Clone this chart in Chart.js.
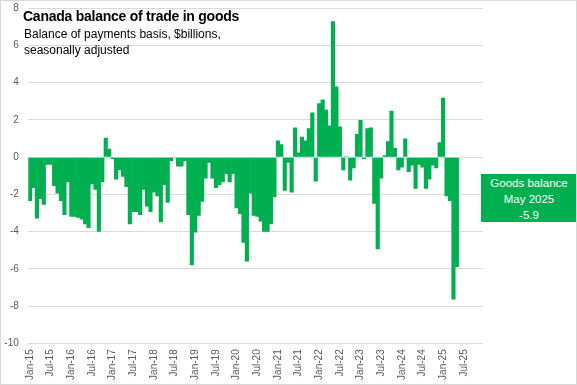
<!DOCTYPE html>
<html><head><meta charset="utf-8">
<script src="https://cdn.jsdelivr.net/npm/chart.js@4.4.1/dist/chart.umd.min.js"></script>
<style>
html,body{margin:0;padding:0;background:#fff;}
#wrap{position:relative;width:577px;height:385px;overflow:hidden;background:#fff;}
#c{position:absolute;left:0;top:0;}
#frame{position:absolute;left:0;top:0;width:577px;height:385px;box-sizing:border-box;border:1px solid #d9d9d9;pointer-events:none;}
#title{position:absolute;left:23px;top:8px;font:bold 14px/16px "Liberation Sans",Arial,sans-serif;color:#000;white-space:nowrap;letter-spacing:-0.25px;}
#sub{position:absolute;left:24px;top:25.5px;font:12px/16px "Liberation Sans",Arial,sans-serif;color:#000;white-space:nowrap;}
#box{position:absolute;left:481px;top:174px;width:96px;height:48px;box-sizing:border-box;padding-top:1px;background:#00b050;color:#fff;font:11.5px/16px "Liberation Sans",Arial,sans-serif;text-align:center;}
</style>
</head><body>
<div id="wrap">
<canvas id="c" width="577" height="385"></canvas>
<div id="title">Canada balance of trade in goods</div>
<div id="sub">Balance of payments basis, $billions,<br>seasonally adjusted</div>
<div id="box">Goods balance<br>May 2025<br>-5.9</div>
<div id="frame"></div>
</div>
<script>
const monthNames = ['Jan','Feb','Mar','Apr','May','Jun','Jul','Aug','Sep','Oct','Nov','Dec'];
const yearLabels = ['15','16','17','18','19','20','21','22','23','24','25'];
const categories = yearLabels.flatMap(y => monthNames.map(m => m + '-' + y));
const yTicks = [-10,-8,-6,-4,-2,0,2,4,6,8];

const bal2015 = [-2.35,-1.65,-3.3,-2.25,-2.55,-0.4,-0.4,-1.55,-1.95,-2.35,-3.1,-1.35];
const bal2016 = [-3.2,-3.2,-3.25,-3.35,-3.6,-3.8,-1.45,-1.75,-4.0,-1.35,1.05,0.45];
const bal2017 = [-0.1,-1.2,-0.7,-1.05,-1.6,-3.6,-2.95,-2.95,-3.1,-1.75,-2.65,-2.95];
const bal2018 = [-1.9,-2.1,-3.5,-1.5,-2.45,-0.2,-0.05,-0.5,-0.5,-0.2,-3.1,-5.8];
const bal2019 = [-4.05,-3.15,-2.4,-1.15,-0.3,-1.15,-1.65,-1.5,-1.35,-0.9,-1.35,-0.9];
const bal2020 = [-2.75,-3.05,-4.6,-5.6,-1.95,-3.15,-3.2,-3.45,-4.0,-4.0,-3.6,-2.15];
const bal2021 = [0.9,0.7,-1.8,-0.3,-1.9,1.6,0.25,1.1,0.9,1.55,2.4,-1.3];
const bal2022 = [2.9,3.1,2.55,1.7,7.3,3.8,1.65,-0.7,0.05,-1.25,-0.6,1.25];
const bal2023 = [2.0,-0.1,1.55,1.6,-2.5,-4.95,-1.15,0.1,0.85,2.5,0.5,-0.7];
const bal2024 = [-0.55,1.0,-0.8,-0.45,-1.7,-0.4,-0.55,-1.7,-1.2,-0.45,-0.6,0.8];
const bal2025 = [3.2,-2.1,-2.35,-7.65,-5.9];

const balance = [].concat(bal2015,bal2016,bal2017,bal2018,bal2019,bal2020,bal2021,bal2022,bal2023,bal2024,bal2025);

const tickFont = {family:'"Liberation Sans", Arial, sans-serif', size:10};
new Chart(document.getElementById('c'), {
  type:'bar',
  data:{labels:categories, datasets:[{data:balance, backgroundColor:'#00b050', borderWidth:0, barPercentage:1.2, categoryPercentage:1}]},
  options:{
    responsive:false, animation:false, devicePixelRatio:1,
    layout:{padding:{left:0,right:94.3,top:8.3,bottom:0}},
    plugins:{legend:{display:false}, tooltip:{enabled:false}, title:{display:false}},
    scales:{
      x:{
        grid:{display:false, drawTicks:false}, border:{display:false},
        ticks:{autoSkip:false, maxRotation:90, minRotation:90, padding:6, font:tickFont, color:'#595959',
          callback:function(v,i){ return i%6===0 ? categories[i] : ''; }},
        afterFit:function(s){ s.height = 41.7; s.paddingLeft = 0; s.paddingRight = 0; }
      },
      y:{
        min:-10, max:8,
        afterBuildTicks:function(s){ s.ticks = yTicks.map(v=>({value:v})); },
        grid:{color:'#d9d9d9', lineWidth:1, drawTicks:false}, border:{display:false},
        ticks:{padding:9.5, font:tickFont, color:'#595959'},
        afterFit:function(s){ s.width = 28.3; s.paddingTop = 0; s.paddingBottom = 0; }
      }
    }
  }
});
</script>
</body></html>
